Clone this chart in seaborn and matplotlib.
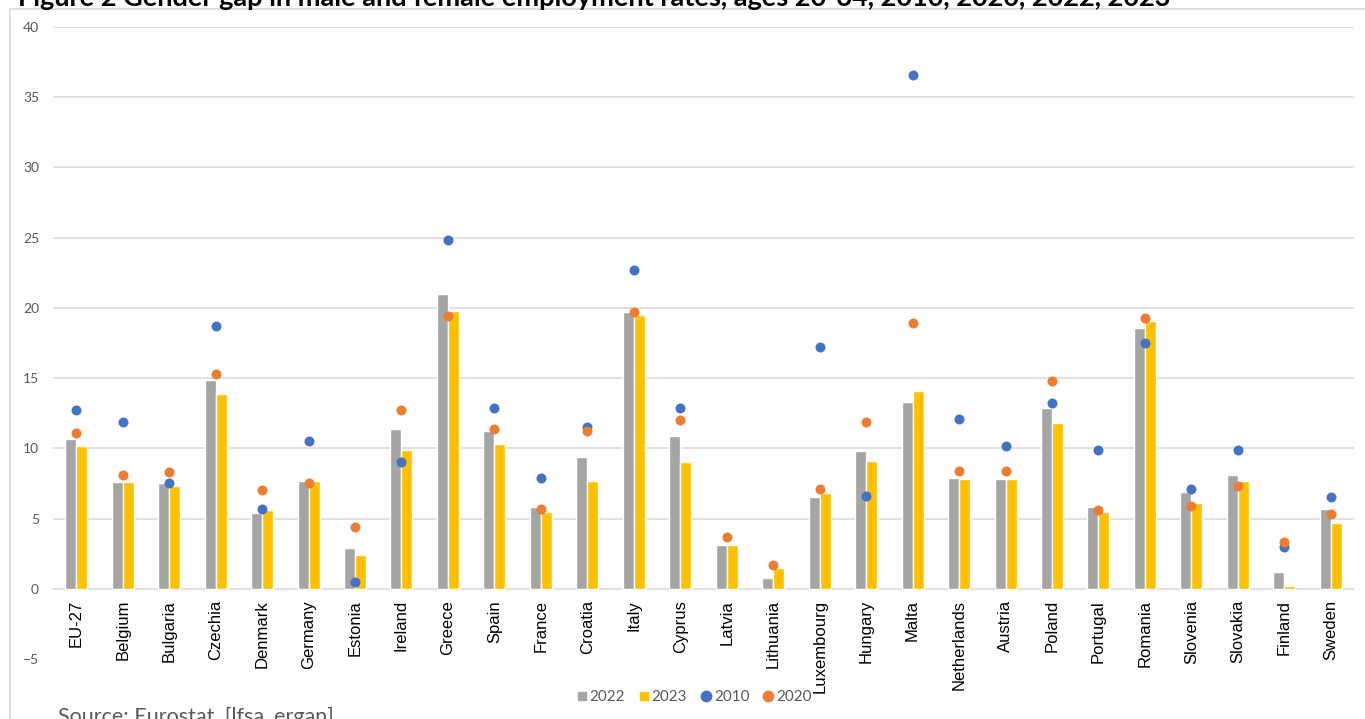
import matplotlib
matplotlib.use("Agg")
import matplotlib.pyplot as plt
from matplotlib.lines import Line2D
from matplotlib.patches import Rectangle
import numpy as np
import pandas as pd
import seaborn as sns

# Gender gap in employment rates (percentage points), ages 20-64
countries = ["EU-27", "Belgium", "Bulgaria", "Czechia", "Denmark", "Germany", "Estonia",
             "Ireland", "Greece", "Spain", "France", "Croatia", "Italy", "Cyprus", "Latvia",
             "Lithuania", "Luxembourg", "Hungary", "Malta", "Netherlands", "Austria", "Poland",
             "Portugal", "Romania", "Slovenia", "Slovakia", "Finland", "Sweden"]

gap_2022 = [10.7, 7.6, 7.5, 14.9, 5.4, 7.7, 2.9, 11.4, 21.0, 11.2, 5.8, 9.4, 19.7, 10.9, 3.1,
            0.8, 6.5, 9.8, 13.3, 7.9, 7.8, 12.9, 5.8, 18.6, 6.9, 8.1, 1.2, 5.7]
gap_2023 = [10.2, 7.6, 7.3, 13.9, 5.6, 7.7, 2.4, 9.9, 19.8, 10.3, 5.5, 7.7, 19.5, 9.0, 3.1,
            1.5, 6.8, 9.1, 14.1, 7.8, 7.8, 11.8, 5.5, 19.1, 6.1, 7.7, 0.2, 4.7]
gap_2010 = [12.7, 11.9, 7.5, 18.7, 5.7, 10.5, 0.5, 9.0, 24.8, 12.9, 7.9, 11.5, 22.7, 12.9, np.nan,
            np.nan, 17.2, 6.6, 36.6, 12.1, 10.2, 13.2, 9.9, 17.5, 7.1, 9.9, 3.0, 6.5]
gap_2020 = [11.1, 8.1, 8.3, 15.3, 7.0, 7.5, 4.4, 12.7, 19.4, 11.4, 5.7, 11.2, 19.7, 12.0, 3.7,
            1.7, 7.1, 11.9, 18.9, 8.4, 8.4, 14.8, 5.6, 19.3, 5.9, 7.3, 3.3, 5.3]

y_ticks = [-5, 0, 5, 10, 15, 20, 25, 30, 35, 40]

title_text = "Figure 2 Gender gap in male and female employment rates, ages 20-64, 2010, 2020, 2022, 2023"
source_text = "Source: Eurostat, [lfsa_ergan]"

GREY = "#A5A5A5"
GOLD = "#FFC000"
BLUE = "#4472C4"
ORANGE = "#ED7D31"
GRID = "#D9D9D9"
TEXT_GREY = "#595959"

bars = pd.DataFrame({"country": countries, "2022": gap_2022, "2023": gap_2023}).melt(
    id_vars="country", var_name="year", value_name="gap")
dots_2010 = pd.DataFrame({"country": countries, "gap": gap_2010}).dropna()
dots_2020 = pd.DataFrame({"country": countries, "gap": gap_2020}).dropna()

sns.set_theme(style="white")
plt.rcParams["font.family"] = ["Lato", "DejaVu Sans"]

fig = plt.figure(figsize=(13.65, 7.19), dpi=100)
ax = fig.add_axes([53 / 1365, 1 - 659 / 719, 1301 / 1365, (659 - 27) / 719])

sns.barplot(data=bars, x="country", y="gap", hue="year", order=countries,
            hue_order=["2022", "2023"], palette=[GREY, GOLD], width=0.474,
            saturation=1, gap=0, legend=False, errorbar=None, ax=ax, zorder=2)
sns.stripplot(data=dots_2010, x="country", y="gap", order=countries, color=BLUE,
              jitter=False, size=7.2, linewidth=0, ax=ax, zorder=3)
sns.stripplot(data=dots_2020, x="country", y="gap", order=countries, color=ORANGE,
              jitter=False, size=7.2, linewidth=0, ax=ax, zorder=4)

ax.set_ylim(-5, 40)
ax.set_xlim(-0.5, len(countries) - 0.5)
ax.set_yticks(y_ticks)
ax.set_xlabel("")
ax.set_ylabel("")

# horizontal gridlines from 0 upward
for v in y_ticks:
    if v > 0:
        ax.axhline(v, color=GRID, linewidth=1.1, zorder=0)

for side in ["top", "right", "left"]:
    ax.spines[side].set_visible(False)
ax.spines["bottom"].set_position(("data", 0))
ax.spines["bottom"].set_color(GRID)
ax.spines["bottom"].set_linewidth(1.1)
ax.spines["bottom"].set_zorder(1)

ax.tick_params(axis="y", length=0, pad=10, labelsize=10, labelcolor=TEXT_GREY)
ax.tick_params(axis="x", length=0, pad=8, labelsize=12, labelcolor="black", labelrotation=90)
for lab in ax.get_xticklabels():
    lab.set_fontfamily(["Liberation Sans", "DejaVu Sans"])

handles = [
    Line2D([], [], marker="s", linestyle="none", color=GREY, markersize=6),
    Line2D([], [], marker="s", linestyle="none", color=GOLD, markersize=6),
    Line2D([], [], marker="o", linestyle="none", color=BLUE, markersize=7.5),
    Line2D([], [], marker="o", linestyle="none", color=ORANGE, markersize=7.5),
]
fig.legend(handles, ["2022", "2023", "2010", "2020"], loc="center",
           bbox_to_anchor=(694 / 1365, 1 - 697 / 719), ncol=4, frameon=False,
           handlelength=0.7, handletextpad=0.15, columnspacing=0.9,
           labelcolor=TEXT_GREY, fontsize=11)

# chart frame
fig.patches.append(Rectangle((10 / 1365, -0.1), 1.2, 1 - 9 / 719 + 0.1,
                             transform=fig.transFigure, fill=False,
                             edgecolor=GRID, linewidth=1.2, zorder=0))

fig.text(18 / 1365, 1 - 6 / 719, title_text, fontsize=19.5, fontweight="bold",
         va="baseline", ha="left", color="black")
fig.text(58 / 1365, 1 - 723 / 719, source_text, fontsize=15.5, va="baseline",
         ha="left", color=TEXT_GREY)

fig.savefig("out.png", dpi=100)
